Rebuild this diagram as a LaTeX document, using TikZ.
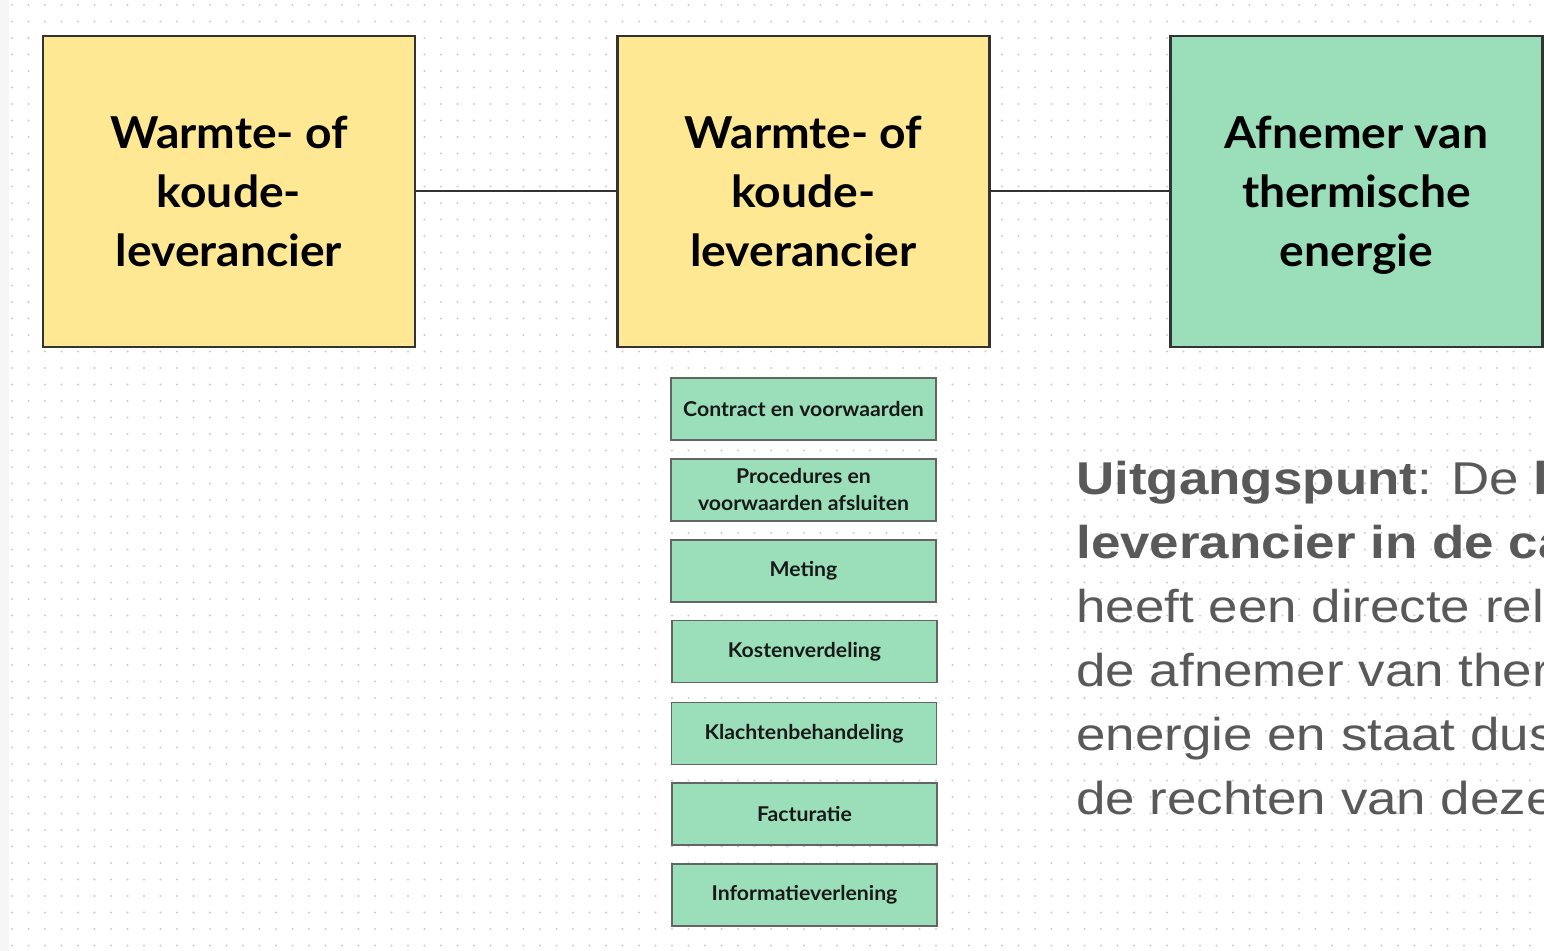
\documentclass[tikz,border=0pt]{standalone}
\usepackage{fontspec}
\setmainfont{Lato}
\newfontfamily\noteFont[FakeStretch=1.15]{Liberation Sans}
\newfontfamily\bigFont[FakeStretch=1.05]{Lato}
\newfontfamily\smallFont[FakeStretch=1.04]{Lato}
\definecolor{boxyellow}{RGB}{255,232,148}
\definecolor{boxgreen}{RGB}{155,223,186}
\definecolor{edgedark}{RGB}{51,51,51}
\definecolor{edgegray}{RGB}{100,100,100}
\definecolor{dotgray}{RGB}{205,205,205}
\definecolor{stripgray}{RGB}{246,246,246}
\definecolor{notegray}{RGB}{89,89,89}
\tikzset{
  bigbox/.style={draw=edgedark, line width=1.4pt, minimum width=186pt, minimum height=155.5pt,
    inner sep=0pt, align=center, text=black,
    font=\bigFont\fontsize{22pt}{29.5pt}\selectfont\bfseries},
  smallbox/.style={draw=edgegray, line width=0.7pt, fill=boxgreen, minimum width=132.5pt,
    minimum height=31pt, inner sep=0pt, align=center, text=black!90,
    font=\smallFont\fontsize{10.2pt}{13.5pt}\selectfont\bfseries},
  conn/.style={draw=edgedark, line width=1pt},
  notetext/.style={anchor=base west, inner sep=0pt, text=notegray,
    font=\noteFont\fontsize{23pt}{32pt}\selectfont}
}
\begin{document}
\begin{tikzpicture}[x=0.5pt,y=-0.5pt]
\useasboundingbox (0,0) rectangle (1544,951);
\clip (0,0) rectangle (1544,951);
\fill[white] (0,0) rectangle (1544,951);
\fill[stripgray] (0,0) rectangle (9,951);
\foreach \i in {0,...,93} {
  \foreach \j in {0,...,57} {
    \fill[dotgray] (12+\i*16.5, 5+\j*16.5) circle (0.55pt);
  }
}
% big boxes
\node[bigbox, fill=boxyellow] (sup1) at (229,191.5) {Warmte- of\\koude-\\leverancier};
\node[bigbox, fill=boxyellow] (sup2) at (803.5,191.5) {Warmte- of\\koude-\\leverancier};
\node[bigbox, fill=boxgreen] (cust) at (1356.5,191.5) {Afnemer van\\thermische\\ener\smash{g}ie};
\draw[conn] (sup1.east) -- (sup2.west);
\draw[conn] (sup2.east) -- (cust.west);
% small boxes
\node[smallbox] (s1) at (803.5,409) {Contract en voorwaarden};
\node[smallbox] (s2) at (803.5,490) {Procedures en\\voorwaarden afsluiten};
\node[smallbox] (s3) at (803.5,571) {Meting};
\node[smallbox] (s4) at (804.5,651.5) {Kostenverdeling};
\node[smallbox] (s5) at (804,733.5) {Klachtenbehandeling};
\node[smallbox] (s6) at (804.5,814) {Facturatie};
\node[smallbox] (s7) at (804.5,895) {Informatieverlening};
% note text (cut off by the right edge, as in the reference)
\node[notetext] (n1) at (1076,495) {\textbf{Uitgangspunt}: De \textbf{l}};
\node[notetext] (n2) at (1076,559) {\textbf{leverancier in de ca}};
\node[notetext] (n3) at (1076,623) {heeft een directe rel};
\node[notetext] (n4) at (1076,687) {de afnemer van ther};
\node[notetext] (n5) at (1076,751) {energie en staat dus};
\node[notetext] (n6) at (1076,815) {de rechten van deze};
\end{tikzpicture}
\end{document}
